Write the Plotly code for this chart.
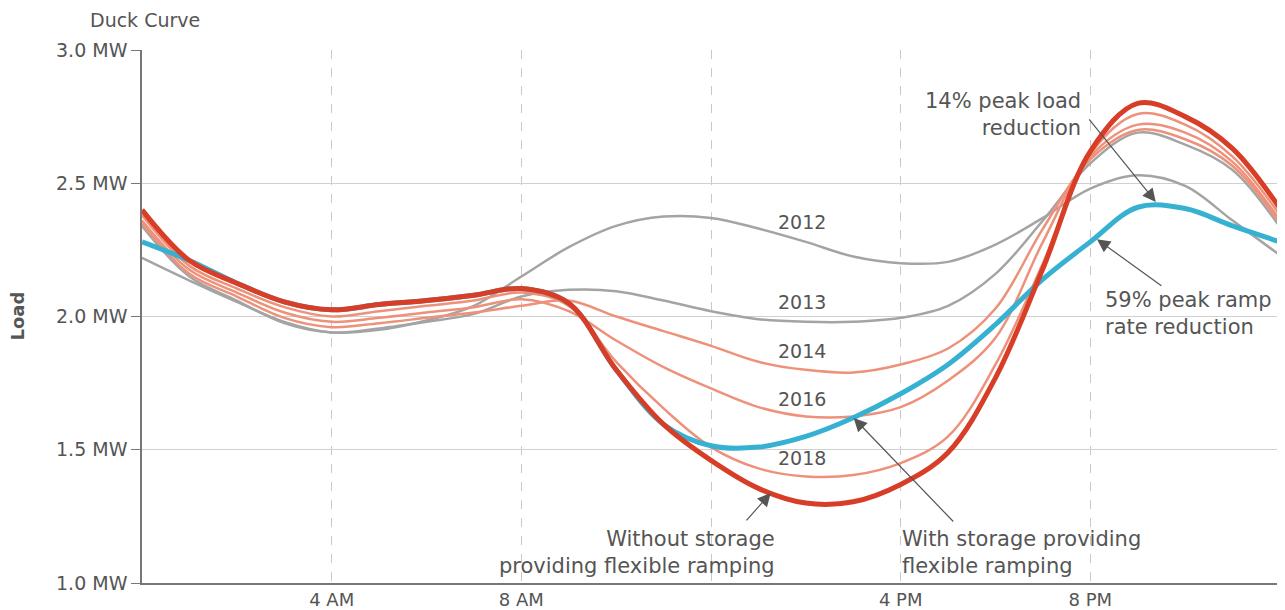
import plotly.graph_objects as go

HOURS = list(range(25))

LOAD_2012 = [2.22, 2.135, 2.055, 1.98, 1.94, 1.95, 1.985, 2.04, 2.15, 2.26, 2.34, 2.375, 2.37, 2.33, 2.28,
             2.225, 2.20, 2.205, 2.27, 2.37, 2.48, 2.53, 2.49, 2.36, 2.23]
LOAD_2013 = [2.34, 2.15, 2.06, 1.975, 1.94, 1.955, 1.98, 2.01, 2.075, 2.10, 2.095, 2.06, 2.02, 1.99, 1.98,
             1.98, 1.995, 2.04, 2.16, 2.36, 2.575, 2.69, 2.645, 2.55, 2.335]
LOAD_2014 = [2.35, 2.16, 2.075, 1.995, 1.96, 1.975, 1.995, 2.015, 2.04, 2.06, 2.00, 1.945, 1.89, 1.83, 1.80,
             1.79, 1.82, 1.88, 2.03, 2.33, 2.59, 2.70, 2.665, 2.565, 2.35]
LOAD_2016 = [2.36, 2.175, 2.09, 2.015, 1.98, 1.995, 2.015, 2.035, 2.065, 2.02, 1.91, 1.81, 1.73, 1.66, 1.625,
             1.625, 1.66, 1.76, 1.92, 2.28, 2.60, 2.72, 2.69, 2.58, 2.36]
LOAD_2018 = [2.38, 2.19, 2.105, 2.035, 2.00, 2.02, 2.04, 2.06, 2.09, 2.04, 1.83, 1.655, 1.51, 1.43, 1.40,
             1.405, 1.45, 1.55, 1.82, 2.20, 2.61, 2.76, 2.72, 2.60, 2.38]
LOAD_WITHOUT_STORAGE = [2.40, 2.21, 2.125, 2.055, 2.025, 2.045, 2.06, 2.08, 2.105, 2.05, 1.80, 1.595, 1.46,
                        1.355, 1.30, 1.305, 1.37, 1.49, 1.77, 2.18, 2.62, 2.80, 2.75, 2.63, 2.405]
LOAD_WITH_STORAGE = [2.28, 2.21, 2.125, 2.055, 2.025, 2.045, 2.06, 2.08, 2.105, 2.05, 1.80, 1.595, 1.515,
                     1.51, 1.55, 1.62, 1.71, 1.82, 1.97, 2.14, 2.28, 2.41, 2.405, 2.34, 2.28]

YEAR_LABELS = ["2012", "2013", "2014", "2016", "2018"]
YEAR_LABEL_Y = [2.355, 2.054, 1.871, 1.69, 1.469]
YEAR_LABEL_X = 13.92

X_TICKS = [4, 8, 12, 16, 20]
X_TICKTEXT = ["4 AM", "8 AM", "", "4 PM", "8 PM"]
Y_TICKS = [1.0, 1.5, 2.0, 2.5, 3.0]
Y_TICKTEXT = ["1.0 MW", "1.5 MW", "2.0 MW", "2.5 MW", "3.0 MW"]

GRAY = "#a4a4a4"
ORANGE = "#ee917a"
RED = "#d83d27"
BLUE = "#37b1d2"
TEXT = "#555555"
FONT = "DejaVu Sans"

# the page body has an 8px default margin; size the figure to fit the window
W, H = 1277, 602

fig = go.Figure()

series = [
    (LOAD_2012, GRAY, 2.5),
    (LOAD_2013, GRAY, 2.5),
    (LOAD_2014, ORANGE, 2.5),
    (LOAD_2016, ORANGE, 2.5),
    (LOAD_2018, ORANGE, 2.5),
    (LOAD_WITH_STORAGE, BLUE, 5),
    (LOAD_WITHOUT_STORAGE, RED, 5),
]
for vals, col, w in series:
    fig.add_trace(go.Scatter(x=HOURS, y=vals, mode="lines",
                             line=dict(color=col, width=w, shape="spline", smoothing=1.0),
                             hoverinfo="skip", showlegend=False))

annotations = []
for lab, yv in zip(YEAR_LABELS, YEAR_LABEL_Y):
    annotations.append(dict(x=YEAR_LABEL_X, y=yv, xref="x", yref="y", text=lab, showarrow=False,
                            font=dict(size=19, color=TEXT, family=FONT), xanchor="center", yanchor="middle"))

NOTE_FONT = dict(size=21, color=TEXT, family=FONT)
annotations += [
    dict(x=13.39, y=1.116, xref="x", yref="y", text="Without storage<br>providing flexible ramping",
         showarrow=False, align="right", xanchor="right", yanchor="middle", font=NOTE_FONT),
    dict(x=15.98, y=1.116, xref="x", yref="y", text="With storage providing<br>flexible ramping",
         showarrow=False, align="left", xanchor="left", yanchor="middle", font=NOTE_FONT),
    dict(x=19.84, y=2.758, xref="x", yref="y", text="14% peak load<br>reduction",
         showarrow=False, align="right", xanchor="right", yanchor="middle", font=NOTE_FONT),
    dict(x=20.27, y=2.013, xref="x", yref="y", text="59% peak ramp<br>rate reduction",
         showarrow=False, align="left", xanchor="left", yanchor="middle", font=NOTE_FONT),
]

arrows = [
    ((12.72, 1.229), (13.26, 1.338)),
    ((17.14, 1.225), (15.01, 1.619)),
    ((19.95, 2.745), (21.38, 2.43)),
    ((21.53, 2.111), (20.14, 2.29)),
]
for (tx, ty), (hx, hy) in arrows:
    annotations.append(dict(x=hx, y=hy, ax=tx, ay=ty, xref="x", yref="y", axref="x", ayref="y",
                            text="", showarrow=True, arrowhead=2, arrowsize=2.2, arrowwidth=1.2,
                            arrowcolor="#555555"))

annotations.append(dict(x=-0.1098, y=0.5, xref="paper", yref="paper", text="<b>Load</b>", textangle=-90,
                        showarrow=False, xanchor="center", yanchor="middle",
                        font=dict(size=18, color=TEXT, family=FONT)))

fig.update_layout(
    width=W, height=H,
    margin=dict(l=134, r=5, t=42, b=27, autoexpand=False),
    paper_bgcolor="white", plot_bgcolor="white",
    title=dict(text="Duck Curve", x=82 / W, xanchor="left", xref="container",
               y=1 - 12 / H, yref="container", yanchor="middle",
               font=dict(size=19, color=TEXT, family=FONT)),
    annotations=annotations,
    showlegend=False,
)
fig.update_xaxes(range=[0, 24], tickvals=X_TICKS, ticktext=X_TICKTEXT, automargin=False,
                 showgrid=True, gridcolor="#c8c8c8", griddash="dash", gridwidth=1,
                 showline=True, linecolor="#777777", linewidth=1.5, ticks="", zeroline=False,
                 ticklabelstandoff=0,
                 tickfont=dict(size=18, color=TEXT, family=FONT))
fig.update_yaxes(range=[1.0, 3.0], tickvals=Y_TICKS, ticktext=Y_TICKTEXT, automargin=False,
                 showgrid=True, gridcolor="#d0d0d0", gridwidth=1,
                 showline=True, linecolor="#777777", linewidth=1.5,
                 ticks="outside", ticklen=9, tickcolor="#777777", zeroline=False,
                 tickfont=dict(size=19, color=TEXT, family=FONT))

fig.write_html("out.html")
